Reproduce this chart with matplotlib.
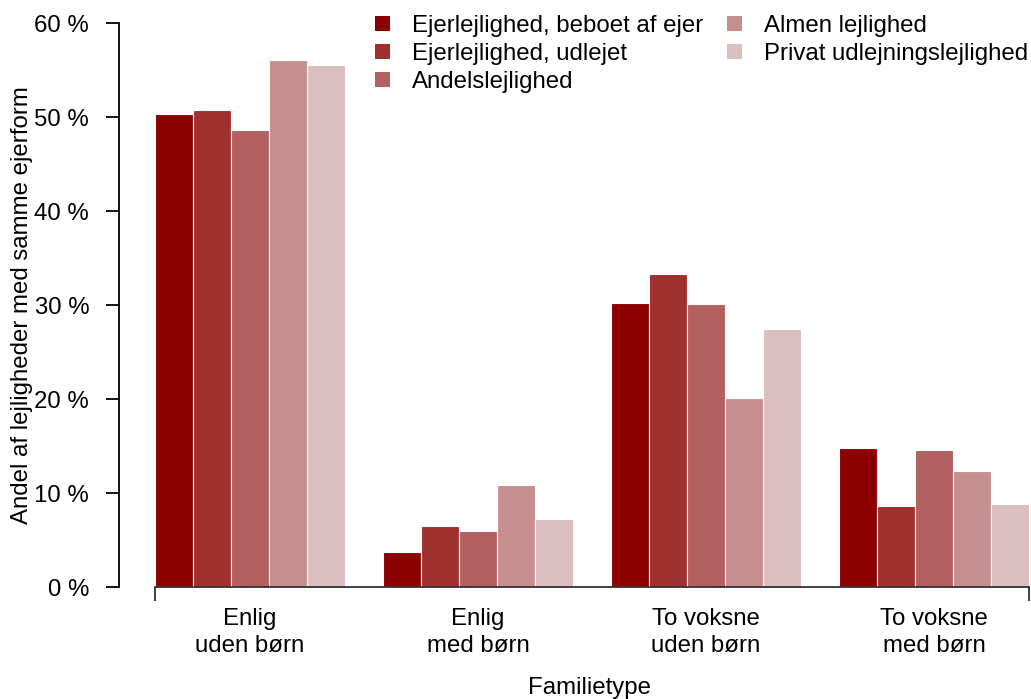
import matplotlib
matplotlib.use("Agg")
import matplotlib.pyplot as plt
import numpy as np

plt.rcParams['font.family'] = ['Liberation Sans', 'DejaVu Sans']

groups = ["Enlig\nuden børn", "Enlig\nmed børn", "To voksne\nuden børn", "To voksne\nmed børn"]
series = ["Ejerlejlighed, beboet af ejer", "Ejerlejlighed, udlejet", "Andelslejlighed",
          "Almen lejlighed", "Privat udlejningslejlighed"]
colors = ["#8B0000", "#9E3030", "#B26060", "#C58F8F", "#DBBEBF"]

beboet = [50.4, 3.8, 30.2, 14.8]
udlejet = [50.8, 6.5, 33.3, 8.7]
andel = [48.7, 6.0, 30.1, 14.6]
almen = [56.1, 10.9, 20.1, 12.4]
privat = [55.6, 7.3, 27.5, 8.9]
values = [beboet, udlejet, andel, almen, privat]

fs = 17.3
W, H = 1031, 699
x0, x1 = 155, 1029   # pixel span of the bars
fig = plt.figure(figsize=(W / 100, H / 100), dpi=100)
ax = fig.add_axes([119 / W, (H - 587.3) / H, (x1 - 119) / W, (587.3 - 23.3) / H])

n = len(series)
for j in range(n):
    x = np.arange(len(groups)) * (n + 1) + j + 0.5
    ax.bar(x, values[j], width=1.0, color=colors[j], edgecolor="white", linewidth=0.8,
           label=series[j])

total = len(groups) * (n + 1) - 1
ax.set_xlim(-(x0 - 119) / ((x1 - x0) / total), total)
ax.set_ylim(0, 60)

for s in ["top", "right"]:
    ax.spines[s].set_visible(False)
ax.spines["bottom"].set_bounds(0, total)
ax.spines["bottom"].set_color("#333333")
ax.spines["bottom"].set_linewidth(1.3)
ax.spines["left"].set_linewidth(1.3)
ax.spines["left"].set_bounds(0, 60)

ax.set_yticks(np.arange(0, 61, 10))
ax.set_yticklabels([f"{v} %" for v in range(0, 61, 10)], fontsize=fs)
ax.tick_params(axis="y", length=9.5, width=1.3, pad=12)
ax.set_xticks([0, total])
ax.set_xticklabels(["", ""])
ax.tick_params(axis="x", length=10, width=1.3, color="#333333")

for g, name in enumerate(groups):
    cx = g * (n + 1) + n / 2
    ax.text(cx, -2.2, name, ha="center", va="top", fontsize=fs, linespacing=1.3,
            clip_on=False)

fig.text(22 / W, 1 - 305 / H, "Andel af lejligheder med samme ejerform", rotation=90,
         ha="center", va="center", fontsize=fs)
fig.text(590 / W, 1 - 688 / H, "Familietype", ha="center", va="center", fontsize=fs)

leg = ax.legend(loc="upper left", bbox_to_anchor=(375 / W, 1 - 15 / H),
                bbox_transform=fig.transFigure, ncol=2, frameon=False, fontsize=fs,
                handlelength=0.63, handleheight=0.63, handletextpad=0.9,
                labelspacing=0.25, columnspacing=1.0, borderaxespad=0, borderpad=0)
for p in leg.get_patches():
    p.set_edgecolor("none")

fig.savefig("out.png", dpi=100)
